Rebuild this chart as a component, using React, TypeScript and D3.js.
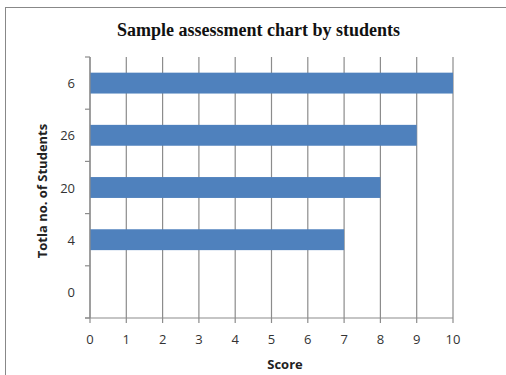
import React from "react";
import * as d3 from "d3";

const categories = ["6", "26", "20", "4", "0"];
const scores = [10, 9, 8, 7, 0];
const xTicks = [0, 1, 2, 3, 4, 5, 6, 7, 8, 9, 10];
const title = "Sample assessment chart by students";
const xLabel = "Score";
const yLabel = "Totla no. of Students";

export default function App() {
  const W = 506, H = 375;
  const left = 90, right = 453, top = 57, bottom = 318;
  const x = d3.scaleLinear().domain([0, 10]).range([left, right]);
  const y = d3.scaleBand().domain(categories).range([top, bottom]).paddingInner(0.6).paddingOuter(0.3);
  const yb = d3.scaleBand().domain(categories).range([top, bottom]);
  const grid = "#8c8c8c";
  const font = "'Open Sans', 'Noto Sans', sans-serif";
  const boundaries = categories.map((c) => yb(c)!).concat([bottom]);
  return (
    <div style={{ position: "fixed", left: 0, top: 0 }}>
      <svg width={W} height={H} style={{ display: "block" }}>
        <rect x={0} y={0} width={W} height={H} fill="#fff" />
        <rect x={5.5} y={7.5} width={W + 10} height={H + 10} fill="none" stroke="#888" strokeWidth={1} />
        <text x={258.5} y={36} textAnchor="middle" fontFamily="'Liberation Serif', 'Times New Roman', serif" fontWeight="bold" fontSize={18} fill="#111">
          {title}
        </text>
        {xTicks.map((t) => (
          <g key={t}>
            <line x1={x(t)} x2={x(t)} y1={top} y2={bottom + 5} stroke={grid} strokeWidth={1.2} />
            <text x={x(t)} y={344} textAnchor="middle" fontFamily={font} fontSize={13} fill="#333">{t}</text>
          </g>
        ))}
        {categories.map((c, i) => (
          <rect key={c} x={x(0)} y={y(c)!} width={x(scores[i]) - x(0)} height={y.bandwidth()} fill="#4F81BD" />
        ))}
        <line x1={left} x2={left} y1={top} y2={bottom} stroke={grid} strokeWidth={1.2} />
        <line x1={left - 5} x2={right} y1={bottom} y2={bottom} stroke={grid} strokeWidth={1.2} />
        {boundaries.map((b, i) => (
          <line key={i} x1={left - 5} x2={left} y1={b} y2={b} stroke={grid} strokeWidth={1.2} />
        ))}
        {categories.map((c) => (
          <text key={c} x={75} y={yb(c)! + yb.bandwidth() / 2 + 5} textAnchor="end" fontFamily={font} fontSize={13} fill="#333">{c}</text>
        ))}
        <text x={285} y={369} textAnchor="middle" fontFamily={font} fontWeight="bold" fontSize={13} fill="#222">{xLabel}</text>
        <text transform={`translate(47,191) rotate(-90)`} textAnchor="middle" fontFamily={font} fontWeight="bold" fontSize={13} fill="#222">{yLabel}</text>
      </svg>
    </div>
  );
}
